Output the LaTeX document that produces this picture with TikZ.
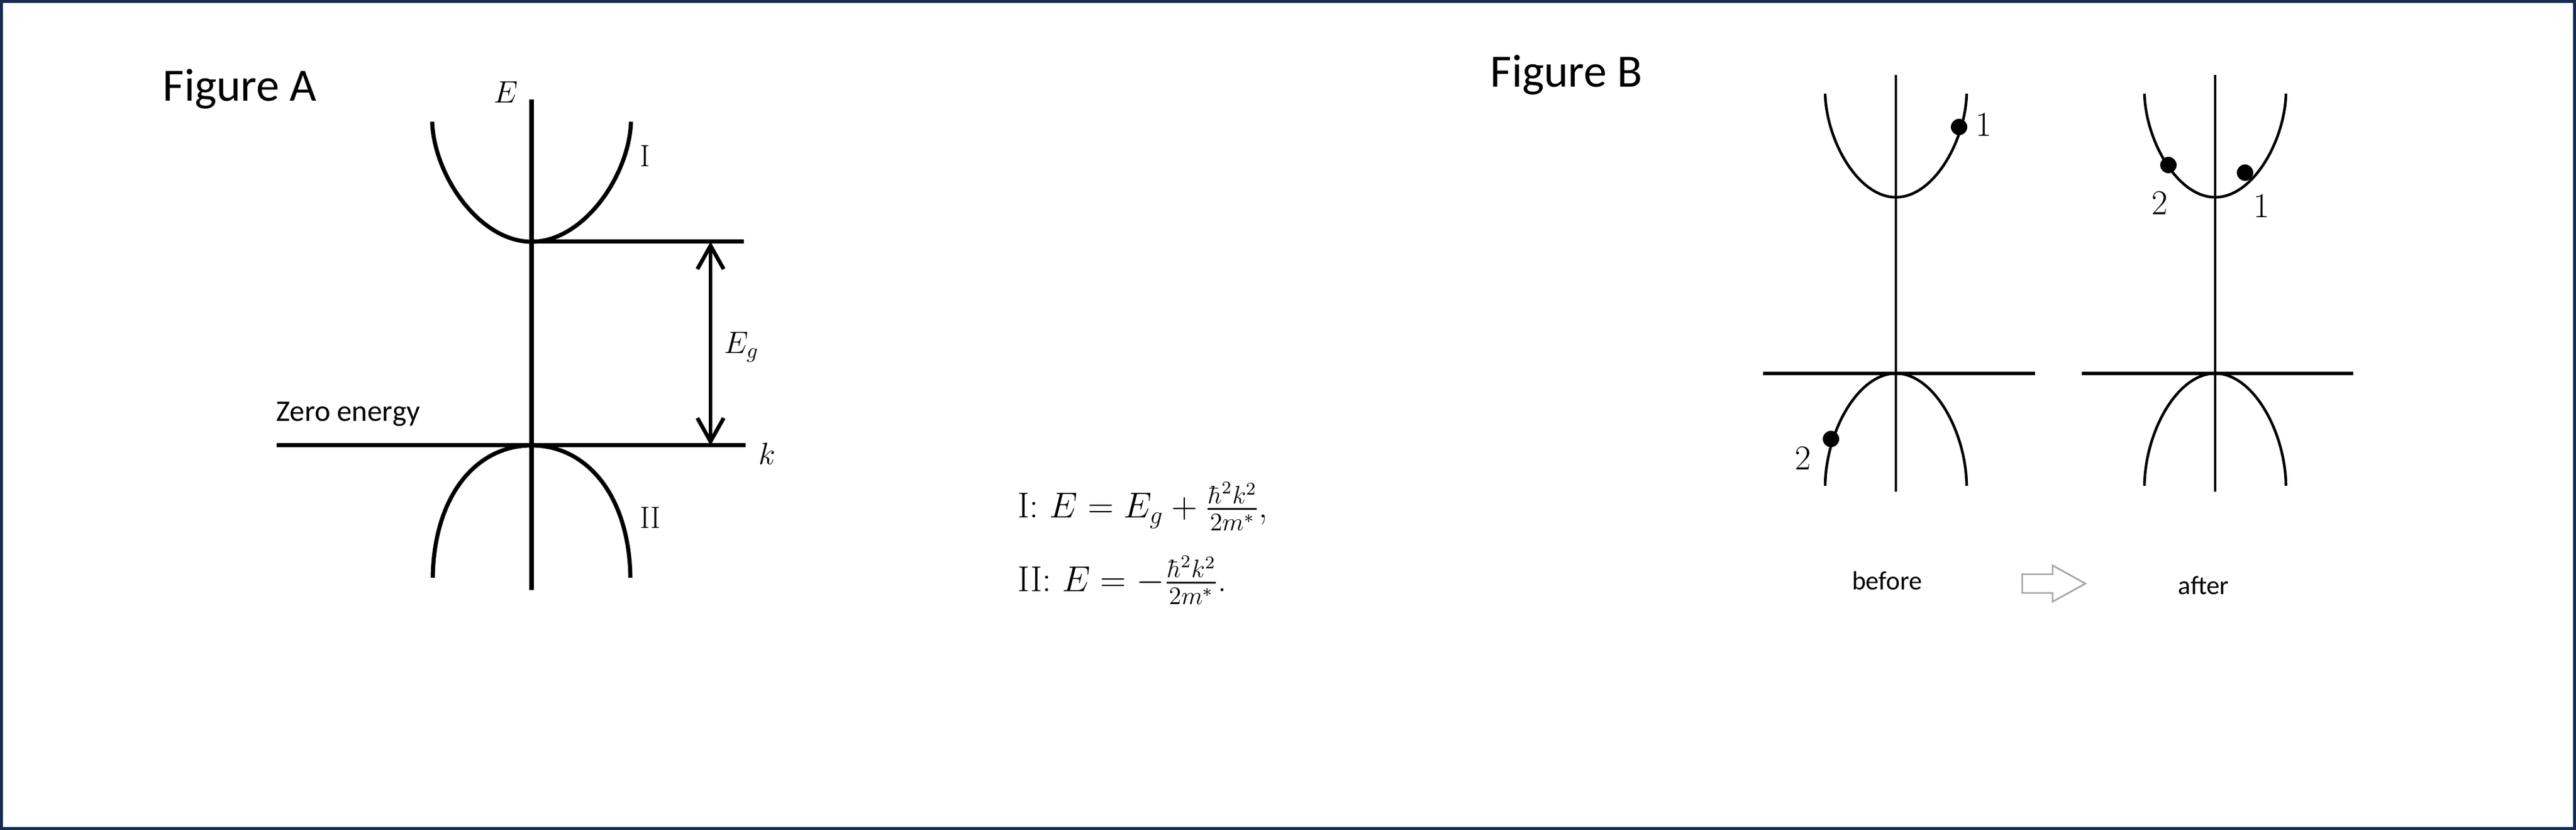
\documentclass[tikz,border=0pt]{standalone}
\usepackage{fix-cm}
\usepackage{amsmath}
\usepackage{fontspec}
\newfontfamily\calibri{Carlito}
\usetikzlibrary{arrows.meta}

\definecolor{framecol}{RGB}{23,44,82}

\begin{document}
\begin{tikzpicture}[
            every node/.append style={black,inner sep=0pt},
            thickline/.style={line width=2pt},
            kline/.style={line width=1.7pt},
            thinline/.style={line width=1.3pt},
            gap/.style={line width=1.9pt,{Straight Barb[length=0.4cm,width=0.45cm]}-{Straight Barb[length=0.4cm,width=0.45cm]}},
            title/.style={font=\fontsize{22.5}{27}\selectfont\calibri},
            caption/.style={font=\fontsize{12.8}{15}\selectfont\calibri},
            lbl/.style={font=\fontsize{15}{18}\selectfont},
            num/.style={font=\fontsize{17}{20}\selectfont},
            eqn/.style={font=\fontsize{17.5}{21}\selectfont,anchor=base west},
            dot/.style={circle,fill=black,minimum size=0.28cm}
        ]
            \useasboundingbox (0,0) rectangle (44.05,14.18);
            \draw[framecol,line width=0.05cm] (0.025,0.025) rectangle (44.025,14.155);

            % Figure A
            \node[title,anchor=base west] (titA) at (2.78,12.45) {Figure A};
            \coordinate (etop) at (9.09,12.48);
            \coordinate (ebot) at (9.09,4.10);
            \coordinate (cb) at (9.09,10.05);
            \coordinate (cbr) at (12.72,10.05);
            \coordinate (kl) at (4.73,6.57);
            \coordinate (kr) at (12.75,6.57);
            \coordinate (gt) at (12.15,10.05);
            \coordinate (gb) at (12.15,6.57);

            \draw[thickline] (etop) -- (ebot);
            \draw[thickline] (cb) -- (cbr);
            \draw[thickline] (kl) -- (kr);
            \draw[gap] (gt) -- (gb);
            \draw[thickline] (7.39,12.10) .. controls (7.42,11.18) and (8.20,10.05) .. (cb)
                .. controls (9.98,10.05) and (10.76,11.18) .. (10.79,12.10);
            \draw[thickline] (7.40,4.31) .. controls (7.42,5.72) and (8.15,6.57) .. (9.09,6.57)
                .. controls (10.03,6.57) and (10.76,5.72) .. (10.78,4.31);

            \node[lbl] (lE) at (8.65,12.60) {$E$};
            \node[lbl] (lI) at (11.03,11.51) {I};
            \node[lbl] (lII) at (11.12,5.33) {II};
            \node[lbl] (lEg) at (12.68,8.25) {$E_g$};
            \node[lbl] (lk) at (13.12,6.43) {$k$};
            \node[caption,font=\fontsize{14.5}{17}\selectfont\calibri,anchor=base west] (zero) at (4.72,6.98) {Zero energy};

            % dispersion relations
            \node[eqn] (eq1) at (17.40,5.33) {I: $E = E_g + \frac{\hbar^2k^2}{2m^*}$,};
            \node[eqn] (eq2) at (17.40,4.07) {II: $E = -\frac{\hbar^2k^2}{2m^*}$.};

            % Figure B
            \node[title,anchor=base west] (titB) at (25.48,12.69) {Figure B};
            \foreach \cx/\kl/\kr in {32.42/2.27/2.38,37.88/2.28/2.36} {
                \draw[thinline] (\cx,12.90) -- (\cx,5.78);
                \draw[kline] (\cx-\kl,7.80) -- (\cx+\kr,7.80);
                \draw[thinline] (\cx-1.21,12.58) .. controls (\cx-1.19,11.78) and (\cx-0.65,10.81) .. (\cx,10.81)
                    .. controls (\cx+0.65,10.81) and (\cx+1.19,11.78) .. (\cx+1.21,12.58);
                \draw[thinline] (\cx-1.21,5.88) .. controls (\cx-1.20,6.80) and (\cx-0.65,7.80) .. (\cx,7.80)
                    .. controls (\cx+0.65,7.80) and (\cx+1.20,6.80) .. (\cx+1.21,5.88);
            }

            % before
            \node[dot] (b1) at (33.50,12.01) {};
            \node[dot] (b2) at (31.31,6.68) {};
            \node[num] (nb1) at (33.92,12.05) {1};
            \node[num] (nb2) at (30.83,6.35) {2};
            % after
            \node[dot] (a2) at (37.08,11.36) {};
            \node[dot] (a1) at (38.39,11.23) {};
            \node[num] (na2) at (36.93,10.71) {2};
            \node[num] (na1) at (38.67,10.66) {1};

            \node[caption] (before) at (32.27,4.26) {before};
            \node[caption] (after) at (37.68,4.18) {after};
            \draw[gray!70,line width=0.8pt,fill=white] (34.58,4.05) -- (35.10,4.05) -- (35.10,3.90)
                -- (35.66,4.21) -- (35.10,4.52) -- (35.10,4.37) -- (34.58,4.37) -- cycle;
        \end{tikzpicture}
\end{document}
